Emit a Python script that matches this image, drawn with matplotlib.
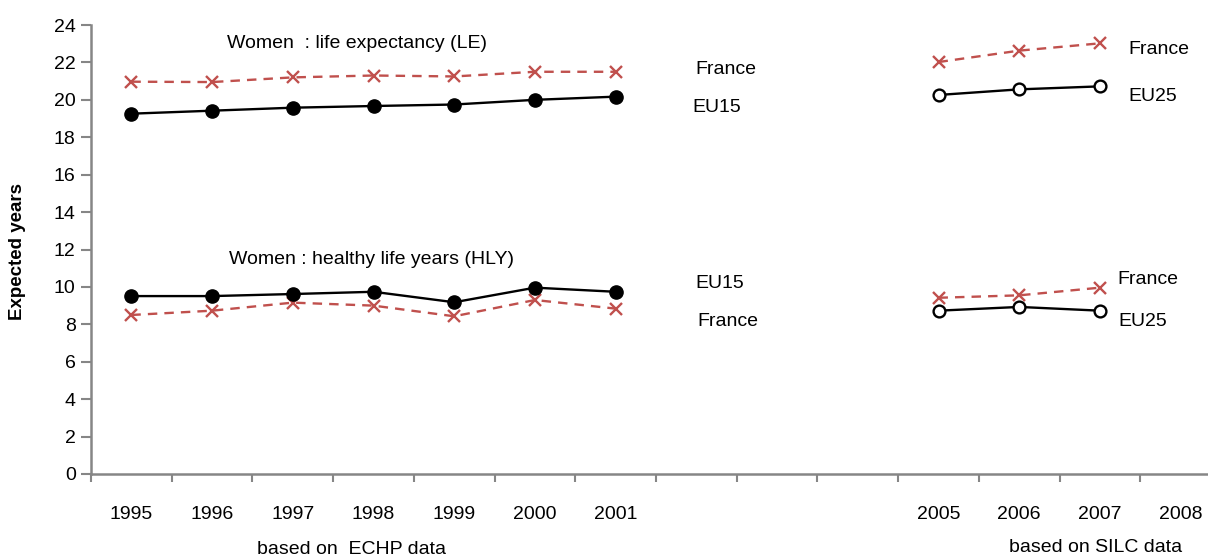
import numpy as np
import matplotlib
matplotlib.use("Agg")
import matplotlib.pyplot as plt

plt.rcParams['font.family'] = ['Liberation Sans Narrow', 'Liberation Sans', 'DejaVu Sans']

categories = ['1995', '1996', '1997', '1998', '1999', '2000', '2001', '', '', '', '2005', '2006', '2007', '2008']
nan = np.nan
le_france = [20.97, 20.95, 21.2, 21.3, 21.25, 21.5, 21.5, nan, nan, nan, 22.02, 22.63, 23.02, nan]
le_eu15 = [19.26, 19.42, 19.58, 19.67, 19.75, 20.0, 20.17, nan, nan, nan, nan, nan, nan, nan]
le_eu25 = [nan, nan, nan, nan, nan, nan, nan, nan, nan, nan, 20.26, 20.56, 20.72, nan]
hly_france = [8.5, 8.73, 9.16, 9.0, 8.43, 9.3, 8.84, nan, nan, nan, 9.42, 9.55, 9.96, nan]
hly_eu15 = [9.51, 9.51, 9.62, 9.74, 9.18, 9.96, 9.74, nan, nan, nan, nan, nan, nan, nan]
hly_eu25 = [nan, nan, nan, nan, nan, nan, nan, nan, nan, nan, 8.73, 8.93, 8.73, nan]
yticks = list(range(0, 25, 2))

W, H = 1208, 557
fig = plt.figure(figsize=(W / 100, H / 100), dpi=100)
ax_l, ax_r, ax_b, ax_t = 91, 1221, 474, 25
ax = fig.add_axes([ax_l / W, 1 - ax_b / H, (ax_r - ax_l) / W, (ax_b - ax_t) / H])

x = np.arange(len(categories))
red = '#C0504D'
for s in (le_france, hly_france):
    ax.plot(x, s, color=red, ls=(0, (4, 3)), lw=1.7, marker='x', ms=8, mew=1.7, zorder=3)
for s in (le_eu15, hly_eu15):
    ax.plot(x, s, color='black', lw=1.7, marker='o', ms=9.5, zorder=4)
for s in (le_eu25, hly_eu25):
    ax.plot(x, s, color='black', lw=1.7, marker='o', ms=8.5, mfc='white', mec='black', mew=1.7, zorder=4)

ax.set_xlim(-0.5, len(categories) - 0.5)
ax.set_ylim(0, 24)
ax.set_yticks(yticks)
ax.set_xticks(np.arange(-0.5, len(categories), 1.0))
ax.set_xticklabels([])
ax.set_xticks(x, minor=True)
ax.set_xticklabels(categories, minor=True)
ax.tick_params(axis='x', which='minor', length=0, pad=23, labelsize=14)
ax.tick_params(axis='x', which='major', length=6, width=1.5, color='#868686')
ax.tick_params(axis='y', length=7, width=1.5, color='#868686', labelsize=14, pad=4)
for sp in ('top', 'right'):
    ax.spines[sp].set_visible(False)
for sp in ('left', 'bottom'):
    ax.spines[sp].set_color('#868686')
    ax.spines[sp].set_linewidth(1.8)

def ftxt(px, py, s, **kw):
    fig.text(px / W, 1 - py / H, s, va='center', fontsize=kw.pop('fontsize', 14), **kw)

ftxt(227, 44, 'Women  : life expectancy (LE)')
ftxt(229, 260, 'Women : healthy life years (HLY)')
ftxt(695, 69, 'France')
ftxt(692, 107, 'EU15')
ftxt(1128, 50, 'France')
ftxt(1128, 96, 'EU25')
ftxt(695, 283, 'EU15')
ftxt(697, 322, 'France')
ftxt(1117, 279, 'France')
ftxt(1118, 321, 'EU25')
ftxt(257, 549, 'based on  ECHP data')
ftxt(1009, 548, 'based on SILC data')
fig.text(18 / W, 1 - 251 / H, 'Expected years', rotation=90, ha='center', va='center',
         fontsize=13.5, fontweight='bold')

fig.savefig('out.png', dpi=100)
